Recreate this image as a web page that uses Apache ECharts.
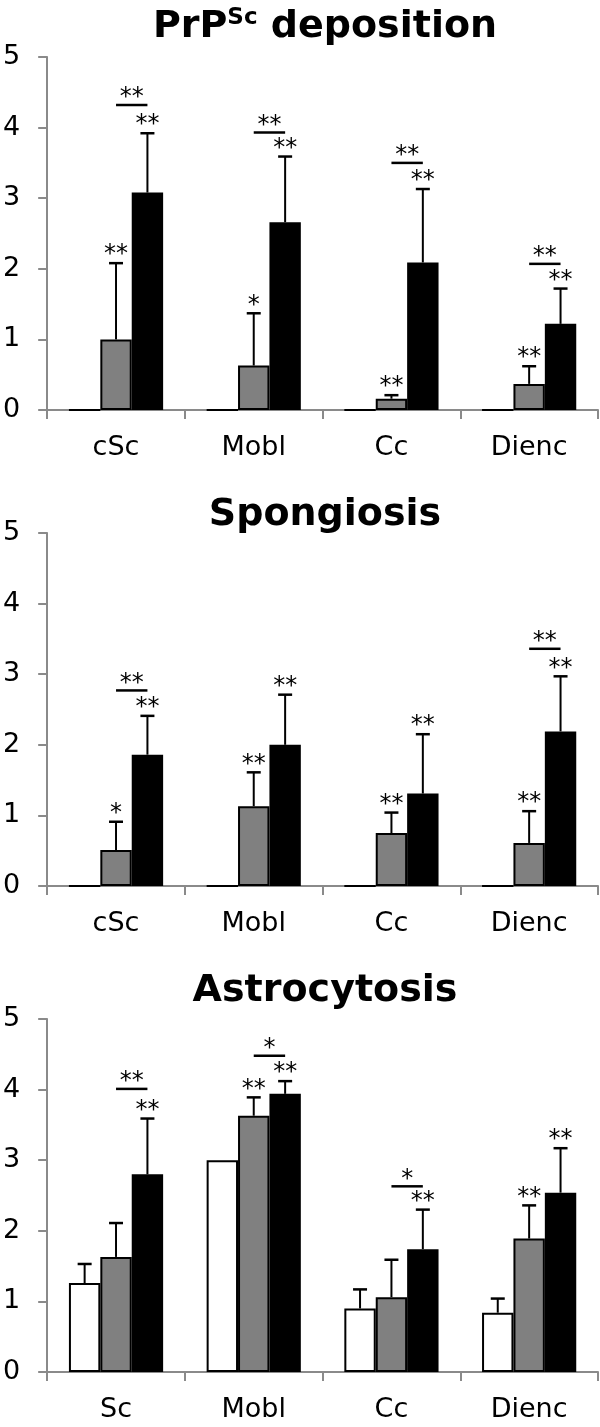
<!DOCTYPE html>
<html>
<head>
<meta charset="utf-8">
<script src="https://cdn.jsdelivr.net/npm/echarts@6/dist/echarts.min.js"></script>
<style>html,body{margin:0;padding:0;background:#fff}#c{width:600px;height:1427px}</style>
</head>
<body>
<div id="c"></div>
<script>
// ---------- data ----------
const titles = ['PrPSc deposition', 'Spongiosis', 'Astrocytosis'];
const catsPrP = ['cSc', 'Mobl', 'Cc', 'Dienc'];
const catsSpo = ['cSc', 'Mobl', 'Cc', 'Dienc'];
const catsAst = ['Sc', 'Mobl', 'Cc', 'Dienc'];
const yTicks = [0, 1, 2, 3, 4, 5];

// PrPSc deposition
const prpWhite = [0, 0, 0, 0];
const prpWhiteSD = [0, 0, 0, 0];
const prpGray = [1.00, 0.63, 0.16, 0.37];
const prpGraySD = [1.08, 0.74, 0.05, 0.25];
const prpBlack = [3.08, 2.66, 2.09, 1.22];
const prpBlackSD = [0.84, 0.93, 1.04, 0.50];
const prpGrayStars = ['**', '*', '**', '**'];
const prpBlackStars = ['**', '**', '**', '**'];
const prpBracketY = [4.32, 3.93, 3.50, 2.07];
const prpBracketStars = ['**', '**', '**', '**'];

// Spongiosis
const spoWhite = [0, 0, 0, 0];
const spoWhiteSD = [0, 0, 0, 0];
const spoGray = [0.51, 1.13, 0.75, 0.61];
const spoGraySD = [0.40, 0.48, 0.29, 0.45];
const spoBlack = [1.86, 2.00, 1.31, 2.19];
const spoBlackSD = [0.55, 0.71, 0.84, 0.78];
const spoGrayStars = ['*', '**', '**', '**'];
const spoBlackStars = ['**', '**', '**', '**'];
const spoBracketY = [2.77, null, null, 3.36];
const spoBracketStars = ['**', '', '', '**'];

// Astrocytosis
const astWhite = [1.26, 3.00, 0.90, 0.84];
const astWhiteSD = [0.27, 0, 0.27, 0.20];
const astGray = [1.63, 3.63, 1.06, 1.89];
const astGraySD = [0.48, 0.26, 0.53, 0.47];
const astBlack = [2.80, 3.94, 1.74, 2.54];
const astBlackSD = [0.79, 0.18, 0.56, 0.63];
const astGrayStars = ['', '**', '', '**'];
const astBlackStars = ['**', '**', '**', '**'];
const astBracketY = [4.01, 4.48, 2.63, null];
const astBracketStars = ['**', '*', '*', ''];

// ---------- layout / style ----------
const FONT = 'DejaVu Sans';
const GAP = 0.316;
const panelTop = [57, 533, 1019];
const panelH = 353;
const titleY = [7, 495, 971];
const AXIS_COLOR = '#8a8a8a';
const barColors = ['#ffffff', '#808080', '#000000'];

const panels = [
  {cats: catsPrP, vals: [prpWhite, prpGray, prpBlack], sds: [prpWhiteSD, prpGraySD, prpBlackSD],
   stars: [null, prpGrayStars, prpBlackStars], brY: prpBracketY, brS: prpBracketStars},
  {cats: catsSpo, vals: [spoWhite, spoGray, spoBlack], sds: [spoWhiteSD, spoGraySD, spoBlackSD],
   stars: [null, spoGrayStars, spoBlackStars], brY: spoBracketY, brS: spoBracketStars},
  {cats: catsAst, vals: [astWhite, astGray, astBlack], sds: [astWhiteSD, astGraySD, astBlackSD],
   stars: [null, astGrayStars, astBlackStars], brY: astBracketY, brS: astBracketStars}
];

const grids = [], xAxes = [], yAxes = [], series = [];
const annTexts = {};
const STAR_FONT = '24px "' + FONT + '"';

function errRender(params, api) {
  const cat = api.value(0), val = api.value(1), g = api.value(2), sd = api.value(3);
  if (!sd) return null;
  const band = api.size([1, 0])[0];
  const bw = band * (1 - GAP) / 3;
  const base = api.coord([cat, val]);
  const top = api.coord([cat, val + sd]);
  const x = base[0] + (g - 1) * bw;
  return {type: 'group', children: [
    {type: 'line', shape: {x1: x, y1: base[1], x2: x, y2: top[1]}, style: {stroke: '#000', lineWidth: 2}},
    {type: 'line', shape: {x1: x - 7, y1: top[1], x2: x + 7, y2: top[1]}, style: {stroke: '#000', lineWidth: 2.5}}
  ]};
}

function annRender(params, api) {
  // data: [cat, y, kind]; kind 1 = gray bar star, 2 = black bar star, 3 = bracket
  const cat = api.value(0), y = api.value(1), kind = api.value(2);
  const txt = annTexts[params.seriesIndex][params.dataIndex];
  const band = api.size([1, 0])[0];
  const bw = band * (1 - GAP) / 3;
  const p = api.coord([cat, y]);
  if (kind === 3) {
    const x1 = p[0], x2 = p[0] + bw;
    return {type: 'group', children: [
      {type: 'line', shape: {x1: x1, y1: p[1], x2: x2, y2: p[1]}, style: {stroke: '#000', lineWidth: 2.5}},
      {type: 'text', x: (x1 + x2) / 2, y: p[1] - 7, style: {text: txt, font: STAR_FONT, fill: '#000', align: 'center', verticalAlign: 'middle'}}
    ]};
  }
  const x = p[0] + (kind - 1) * bw;
  return {type: 'text', x: x, y: p[1] - 8, style: {text: txt, font: STAR_FONT, fill: '#000', align: 'center', verticalAlign: 'middle'}};
}

panels.forEach((pn, i) => {
  grids.push({left: 45, right: 2, top: panelTop[i], height: panelH});
  xAxes.push({
    type: 'category', gridIndex: i, data: pn.cats,
    axisLine: {show: true, lineStyle: {color: AXIS_COLOR, width: 2}},
    axisTick: {show: true, length: 9, interval: 0, lineStyle: {color: AXIS_COLOR, width: 2}},
    axisLabel: {color: '#000', fontFamily: FONT, fontSize: 27, margin: 24, interval: 0}
  });
  yAxes.push({
    type: 'value', gridIndex: i, min: yTicks[0], max: yTicks[yTicks.length - 1], interval: 1,
    splitLine: {show: false},
    axisLine: {show: true, lineStyle: {color: AXIS_COLOR, width: 2}},
    axisTick: {show: true, length: 9, lineStyle: {color: AXIS_COLOR, width: 2}},
    axisLabel: {color: '#000', fontFamily: FONT, fontSize: 27, margin: 27}
  });
  for (let g = 0; g < 3; g++) {
    series.push({
      type: 'bar', xAxisIndex: i, yAxisIndex: i, data: pn.vals[g],
      barGap: '0%', barCategoryGap: (GAP * 100) + '%',
      itemStyle: {color: barColors[g], borderColor: '#000', borderWidth: 2},
      emphasis: {disabled: true}, animation: false, z: 2
    });
  }
  const errData = [];
  for (let g = 0; g < 3; g++) {
    pn.vals[g].forEach((v, c) => errData.push([c, v, g, pn.sds[g][c]]));
  }
  series.push({
    type: 'custom', xAxisIndex: i, yAxisIndex: i, data: errData, renderItem: errRender,
    animation: false, z: 3, silent: true
  });
  const annData = [], texts = [];
  for (let g = 1; g < 3; g++) {
    pn.stars[g].forEach((s, c) => {
      if (s) { annData.push([c, pn.vals[g][c] + pn.sds[g][c], g]); texts.push(s); }
    });
  }
  pn.brY.forEach((y, c) => {
    if (y != null) { annData.push([c, y, 3]); texts.push(pn.brS[c]); }
  });
  annTexts[series.length] = texts;
  series.push({
    type: 'custom', xAxisIndex: i, yAxisIndex: i, data: annData, renderItem: annRender,
    animation: false, z: 4, silent: true, clip: false
  });
});

const titleGraphics = titles.map((t, i) => {
  const text = i === 0 ? '{a|PrP}{b|Sc}{a| deposition}' : '{a|' + t + '}';
  const rich = {
    a: {fontFamily: FONT, fontWeight: 'bold', fontSize: 38, fill: '#000', lineHeight: 40},
    b: {fontFamily: FONT, fontWeight: 'bold', fontSize: 23, fill: '#000', lineHeight: 24, verticalAlign: 'top'}
  };
  return {type: 'text', x: 325, y: titleY[i], style: {text: text, rich: rich, align: 'center', verticalAlign: 'top'}, z: 10};
});

const chart = echarts.init(document.getElementById('c'), null, {renderer: 'canvas'});
chart.setOption({
  animation: false,
  backgroundColor: '#fff',
  grid: grids, xAxis: xAxes, yAxis: yAxes, series: series,
  graphic: titleGraphics
});
</script>
</body>
</html>
